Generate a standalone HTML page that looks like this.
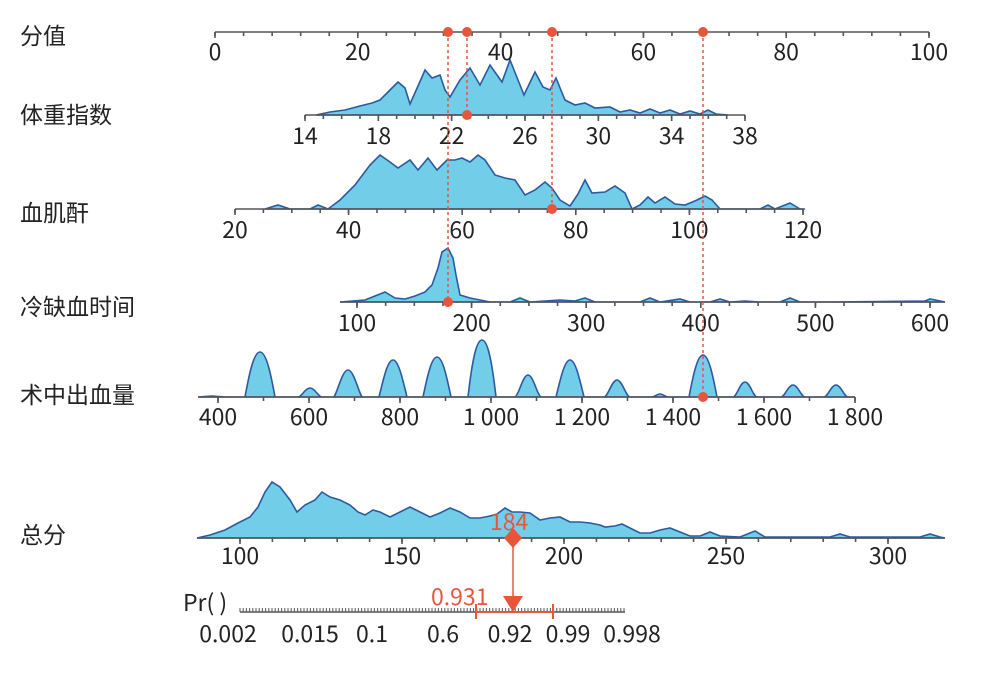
<!DOCTYPE html>
<html><head><meta charset="utf-8"><style>
body{margin:0;background:#fff;width:981px;height:674px;overflow:hidden}
svg{display:block}
.l{font-family:"Noto Sans CJK SC","Liberation Sans",sans-serif;font-size:23px;fill:#222}
.t{font-family:"Noto Sans CJK SC","Liberation Sans",sans-serif;font-size:23px;fill:#222;text-anchor:middle}
.d{fill:#71cde8;stroke:#2c5aa0;stroke-width:1.6}
.ax{stroke:#555;stroke-width:1.6}
.r{font-family:"Noto Sans CJK SC","Liberation Sans",sans-serif;font-size:23px}
</style></head><body>
<svg id="s" width="981" height="674" xmlns="http://www.w3.org/2000/svg">
<g class="l">
<text x="20" y="44">分值</text>
<text x="20" y="123">体重指数</text>
<text x="20" y="221">血肌酐</text>
<text x="20" y="315">冷缺血时间</text>
<text x="20" y="403">术中出血量</text>
<text x="20" y="543">总分</text>
</g>
<polygon class="d" points="316,115 330,112 345,110 360,106 372,103 380,100 390,90 398,82 405,88 410,104 418,86 425,70 432,78 440,75 445,90 450,97 460,80 470,68 480,85 490,65 497,75 502,82 510,60 518,80 524,95 535,72 543,87 550,90 556,78 565,100 575,105 585,103 595,108 610,107 620,112 630,110 640,113 650,109 660,113 670,110 680,114 690,111 700,114 708,110 716,114 728,115"/>
<polygon class="d" points="265,209 278,205 290,209 310,209 318,205 328,209 340,200 355,185 370,165 380,155 390,162 398,168 410,160 418,170 428,158 437,170 447,160 455,160 462,158 470,162 478,155 485,160 495,175 505,178 515,180 525,195 535,190 545,182 552,188 560,200 570,206 578,194 585,180 592,193 605,192 615,186 625,193 632,209 640,205 648,197 655,203 665,197 675,204 685,205 690,203 697,200 705,196 712,200 720,209 760,209 768,205 775,209 790,203 800,209 805,209"/>
<polygon class="d" points="340,302 365,300 375,296 385,292 395,298 405,299 415,296 425,292 432,285 438,268 442,252 448,248 453,258 456,275 460,295 470,298 480,300 490,302 510,302 520,298 530,302 545,301 560,300 575,301 585,298 595,302 640,302 650,298 660,302 680,299 690,302 710,302 720,299 730,302 745,301 760,302 780,302 790,298 800,302 830,302 925,301 930,299 940,301 945,302"/>
<g id="bl"></g>
<polygon class="d" points="197,538 210,535 225,530 238,523 250,517 258,507 265,492 272,482 280,487 290,500 297,512 305,505 315,500 322,492 330,497 340,500 350,505 358,512 365,515 373,510 380,512 390,517 400,512 410,507 420,512 430,517 440,513 450,508 460,512 470,518 480,518 490,516 497,514 505,508 512,512 520,512 530,513 540,520 550,518 560,517 570,522 580,522 590,523 600,525 605,527 615,526 622,524 630,528 640,533 650,533 660,530 670,528 680,532 690,536 700,536 710,532 720,536 740,537 755,531 765,537 830,537 840,534 850,537 920,537 930,534 940,537 945,538"/>
<g id="axes"></g>
<g stroke="#e8553a" stroke-width="1.5" stroke-dasharray="3,3">
<line x1="448" y1="32" x2="448" y2="302"/>
<line x1="467" y1="32" x2="467" y2="115"/>
<line x1="552" y1="32" x2="552" y2="209"/>
<line x1="703" y1="32" x2="703" y2="397"/>
</g>
<g fill="#e8553a">
<circle cx="448" cy="32" r="5"/><circle cx="467" cy="32" r="5"/><circle cx="552" cy="32" r="5"/><circle cx="703" cy="32" r="5"/>
<circle cx="467" cy="115" r="5"/><circle cx="552" cy="209" r="5"/><circle cx="448" cy="302" r="5"/><circle cx="703" cy="397" r="5"/>
<polygon points="513,528 522,538 513,548 504,538"/>
<polygon points="503,596 523,596 513,612"/>
<text class="r" x="490" y="530">184</text>
<text class="r" x="431" y="605">0.931</text>
</g>
<line x1="513" y1="538" x2="513" y2="600" stroke="#e8553a" stroke-width="1.5"/>
<g stroke="#e8553a" stroke-width="2"><line x1="476" y1="612" x2="553" y2="612"/><line x1="476" y1="604" x2="476" y2="619"/><line x1="553" y1="604" x2="553" y2="619"/></g>
<text class="l" x="183" y="611">Pr( )</text>
</svg>
<script>
var s=document.getElementById('axes'),NS='http://www.w3.org/2000/svg';
function el(n,a,t,p){var e=document.createElementNS(NS,n);for(var k in a)e.setAttribute(k,a[k]);if(t!=null)e.textContent=t;(p||s).appendChild(e);return e}
function axis(y,x0,x1,v0,v1,step,lab,ty,fmt,lx0,lx1){
 el('line',{x1:lx0||x0,x2:lx1||x1,y1:y,y2:y,'class':'ax'});
 for(var v=v0;v<=v1+1e-9;v+=step){var x=x0+(v-v0)/(v1-v0)*(x1-x0);el('line',{x1:x,x2:x,y1:y,y2:y+4,'class':'ax'});}
 lab.forEach(function(v){var x=x0+(v-v0)/(v1-v0)*(x1-x0);el('line',{x1:x,x2:x,y1:y,y2:y+6,'class':'ax'});el('text',{x:x,y:ty,'class':'t'},String(fmt?fmt(v):v));});
}
axis(32,215,929,0,100,4,[0,20,40,60,80,100],60);
axis(115,305,745,14,38,1,[14,18,22,26,30,34,38],144);
axis(209,235,803,20,120,5,[20,40,60,80,100,120],238);
axis(302,357,930,100,600,25,[100,200,300,400,500,600],331,null,340,945);
axis(397,218,855,400,1800,100,[400,600,800,1000,1200,1400,1600,1800],425,function(v){return v>=1000?(''+v).replace(/(\d)(\d{3})$/,'$1 $2'):v},198,855);
axis(538,240,888,100,300,10,[100,150,200,250,300],564,null,197,945);
el('line',{x1:240,x2:625,y1:612,y2:612,'class':'ax'});
for(var x=240;x<=625;x+=3.2)el('line',{x1:x,x2:x,y1:608,y2:612,stroke:'#555','stroke-width':1});
[[228,'0.002'],[310,'0.015'],[372,'0.1'],[443,'0.6'],[510,'0.92'],[568,'0.99'],[632,'0.998']].forEach(function(a){el('text',{x:a[0],y:642,'class':'t'},a[1])});
var bl=document.getElementById('bl');
var d='M198,397 L212,396 L226,397 L';
[[260,352,15],[310,388,12],[348,370,14],[393,360,14],[437,357,14],[482,340,14],[528,375,13],[570,360,14],[617,380,13],[660,394,8],[703,355,14],[745,382,12],[793,385,12],[836,385,12]].forEach(function(b){
 var x=b[0],t=b[1],w=b[2],c=Math.min(t+20,397);
 d+=(x-w)+',397 C'+(x-w*0.7)+','+c+' '+(x-w*0.4)+','+t+' '+x+','+t+' C'+(x+w*0.4)+','+t+' '+(x+w*0.7)+','+c+' '+(x+w)+',397 L';
});
d+='855,397 Z';
el('path',{d:d,'class':'d'},null,bl);
</script>
</body></html>
